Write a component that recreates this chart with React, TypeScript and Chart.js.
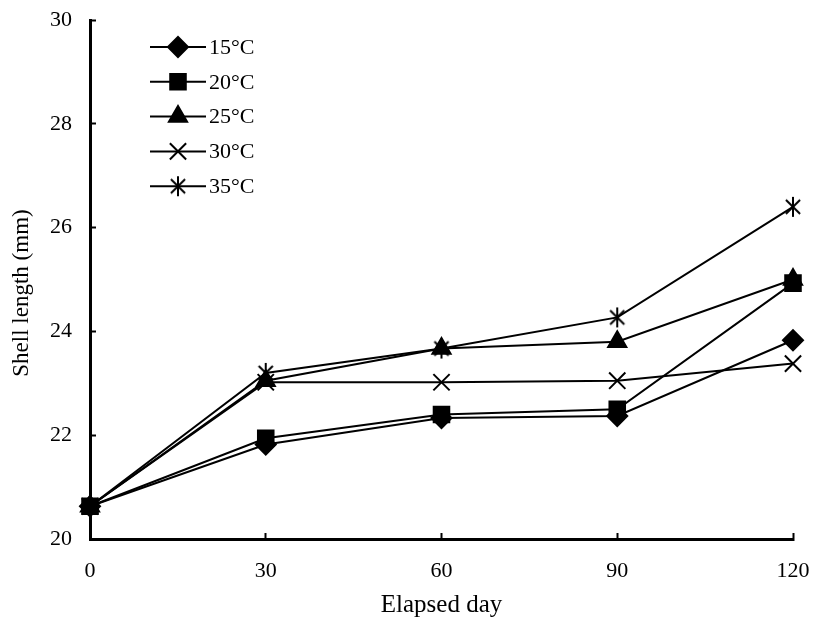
import React, { useEffect, useRef } from "react";
import { Chart, registerables } from "chart.js";
import { drawPoint } from "chart.js/helpers";

Chart.register(...registerables);

const days = [0, 30, 60, 90, 120];
const seriesNames = ["15°C", "20°C", "25°C", "30°C", "35°C"];
const s15 = [20.63, 21.82, 22.33, 22.37, 23.83];
const s20 = [20.63, 21.94, 22.4, 22.5, 24.93];
const s25 = [20.63, 23.05, 23.67, 23.8, 25.0];
const s30 = [20.63, 23.02, 23.02, 23.05, 23.38];
const s35 = [20.63, 23.2, 23.67, 24.27, 26.4];
const yTicks = [20, 22, 24, 26, 28, 30];
const xTitle = "Elapsed day";
const yTitle = "Shell length (mm)";

const FONT = '"Liberation Serif", "Times New Roman", serif';

function makeAsterisk(r: number): HTMLCanvasElement {
  const c = document.createElement("canvas");
  const s = Math.ceil(2 * r + 4);
  c.width = s;
  c.height = s;
  const ctx = c.getContext("2d")!;
  const m = s / 2;
  const d = r * Math.SQRT1_2;
  ctx.strokeStyle = "#000";
  ctx.lineWidth = 2;
  ctx.beginPath();
  ctx.moveTo(m, m - r);
  ctx.lineTo(m, m + r);
  ctx.moveTo(m - d, m - d);
  ctx.lineTo(m + d, m + d);
  ctx.moveTo(m - d, m + d);
  ctx.lineTo(m + d, m - d);
  ctx.stroke();
  return c;
}

function zeroPadding(scale: any) {
  scale.paddingTop = 0;
  scale.paddingBottom = 0;
  scale.paddingLeft = 0;
  scale.paddingRight = 0;
}

export default function App() {
  const ref = useRef<HTMLCanvasElement | null>(null);

  useEffect(() => {
    if (!ref.current) return;
    const asterisk = makeAsterisk(10);
    const values = [s15, s20, s25, s30, s35];
    const styles: any[] = ["rectRot", "rect", "triangle", "crossRot", asterisk];
    const radii = [10, 11, 10.5, 11.5, 10];

    const datasets = values.map((vals, i) => ({
      label: seriesNames[i],
      data: days.map((d, j) => ({ x: d, y: vals[j] })),
      borderColor: "#000",
      backgroundColor: "#000",
      borderWidth: 2,
      pointStyle: styles[i],
      pointRadius: radii[i],
      pointBorderWidth: 2,
      pointBackgroundColor: "#000",
      pointBorderColor: "#000",
      tension: 0,
      fill: false,
      clip: false,
      order: values.length - i,
    }));

    const legendPlugin = {
      id: "inlineLegend",
      afterDraw(chart: any) {
        const ctx = chart.ctx;
        const ca = chart.chartArea;
        const x0 = ca.left + 60;
        const x1 = ca.left + 116;
        const xm = (x0 + x1) / 2;
        ctx.save();
        chart.data.datasets.forEach((ds: any, i: number) => {
          const y = ca.top + 27 + i * 34.8;
          ctx.strokeStyle = "#000";
          ctx.lineWidth = 2;
          ctx.beginPath();
          ctx.moveTo(x0, y);
          ctx.lineTo(x1, y);
          ctx.stroke();
          ctx.fillStyle = "#000";
          ctx.strokeStyle = "#000";
          ctx.lineWidth = 2;
          drawPoint(ctx, { pointStyle: ds.pointStyle, radius: ds.pointRadius, borderWidth: 2, rotation: 0 }, xm, y);
          ctx.fillStyle = "#000";
          ctx.font = `22px ${FONT}`;
          ctx.textAlign = "left";
          ctx.textBaseline = "middle";
          ctx.fillText(ds.label, x1 + 3, y + 1);
        });
        ctx.restore();
      },
    };

    const titlesPlugin = {
      id: "axisTitles",
      afterDraw(chart: any) {
        const ctx = chart.ctx;
        const ca = chart.chartArea;
        ctx.save();
        ctx.fillStyle = "#000";
        ctx.textAlign = "center";
        ctx.textBaseline = "middle";
        ctx.font = `25px ${FONT}`;
        ctx.fillText(xTitle, (ca.left + ca.right) / 2, 605);
        ctx.font = `23px ${FONT}`;
        ctx.translate(22, 293);
        ctx.rotate(-Math.PI / 2);
        ctx.fillText(yTitle, 0, 0);
        ctx.restore();
      },
    };

    const chart = new Chart(ref.current, {
      type: "line",
      data: { datasets },
      options: {
        animation: false,
        responsive: false,
        maintainAspectRatio: false,
        layout: { padding: { top: 20, right: 21, left: 0, bottom: 0 } },
        plugins: { legend: { display: false }, tooltip: { enabled: false }, title: { display: false } },
        scales: {
          x: {
            type: "linear",
            min: 0,
            max: 120,
            afterFit(scale: any) {
              scale.height = 96;
              zeroPadding(scale);
            },
            afterBuildTicks(scale: any) {
              scale.ticks = days.map((v) => ({ value: v }));
            },
            grid: {
              drawOnChartArea: false,
              drawTicks: true,
              tickLength: -6,
              tickWidth: 2,
              tickColor: "#000",
            },
            border: { display: true, color: "#000", width: 3 },
            ticks: {
              color: "#000",
              font: { family: FONT, size: 22 },
              padding: 25,
              maxRotation: 0,
            },
          },
          y: {
            type: "linear",
            min: 20,
            max: 30,
            afterFit(scale: any) {
              scale.width = 90;
              zeroPadding(scale);
            },
            afterBuildTicks(scale: any) {
              scale.ticks = yTicks.map((v) => ({ value: v }));
            },
            grid: {
              drawOnChartArea: false,
              drawTicks: true,
              tickLength: -6,
              tickWidth: 2,
              tickColor: "#000",
            },
            border: { display: true, color: "#000", width: 3 },
            ticks: {
              color: "#000",
              font: { family: FONT, size: 22 },
              padding: 24,
            },
          },
        },
      },
      plugins: [legendPlugin, titlesPlugin],
    } as any);

    return () => chart.destroy();
  }, []);

  return (
    <div style={{ position: "absolute", left: 0, top: 0, width: 814, height: 635, background: "#fff" }}>
      <canvas ref={ref} width={814} height={635} style={{ width: 814, height: 635, display: "block" }} />
    </div>
  );
}
